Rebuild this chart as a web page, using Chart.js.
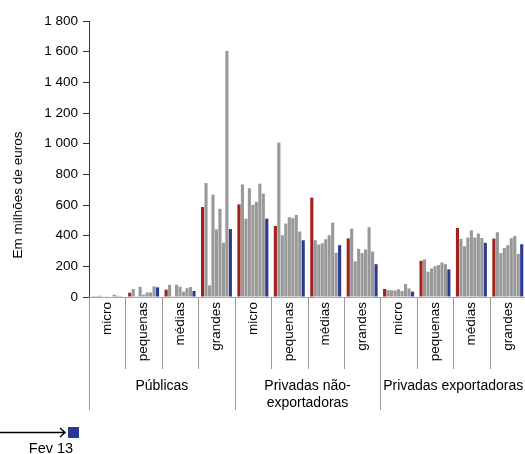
<!DOCTYPE html>
<html>
<head>
<meta charset="utf-8">
<script src="https://cdn.jsdelivr.net/npm/chart.js@4/dist/chart.umd.min.js"></script>
<style>
  html, body { margin: 0; padding: 0; background: #fff; overflow: hidden; }
  #wrap { position: relative; width: 529px; height: 454px; }
</style>
</head>
<body>
<div id="wrap"><canvas id="chart"></canvas></div>
<script>
  // categories
  var sectors = ['Públicas', ['Privadas não-', 'exportadoras'], 'Privadas exportadoras'];
  var sizes = ['micro', 'pequenas', 'médias', 'grandes'];
  var yTicks = [0, 200, 400, 600, 800, 1000, 1200, 1400, 1600, 1800];

  // series (first month in red, last month Fev 13 in blue, the rest grey)
  var serieInicio = [5, 28, 48, 587, 604, 463, 648, 382, 52, 236, 450, 381];
  var serie2 = [6, 52, 80, 743, 734, 1007, 370, 446, 45, 245, 379, 422];
  var serie3 = [8, 2, 5, 76, 511, 403, 342, 233, 43, 165, 331, 286];
  var serie4 = [4, 67, 80, 667, 709, 479, 351, 314, 43, 186, 388, 320];
  var serie5 = [2, 15, 67, 440, 601, 520, 377, 286, 50, 201, 435, 338];
  var serie6 = [3, 30, 35, 575, 620, 515, 403, 310, 39, 208, 388, 383];
  var serie7 = [15, 30, 58, 354, 739, 535, 485, 455, 84, 225, 414, 398];
  var serie8 = [8, 69, 65, 1605, 674, 427, 288, 297, 56, 214, 385, 281];
  var serieFev13 = [2, 63, 39, 443, 511, 370, 338, 214, 35, 180, 353, 344];

  var red = '#A0221F';
  var grey = '#999999';
  var blue = '#2B3990';
  var font = '"Liberation Sans", Arial, sans-serif';

  var labels = [];
  sectors.forEach(function () {
    sizes.forEach(function (s) { labels.push(s); });
  });

  var allSeries = [serieInicio, serie2, serie3, serie4, serie5, serie6, serie7, serie8, serieFev13];
  var datasets = allSeries.map(function (d, i) {
    var c = i === 0 ? red : (i === allSeries.length - 1 ? blue : grey);
    return {
      label: i === allSeries.length - 1 ? 'Fev 13' : 's' + i,
      data: d,
      backgroundColor: c,
      borderWidth: 0,
      barPercentage: 0.9,
      categoryPercentage: 0.86
    };
  });

  function fmt(v) {
    return String(v).replace(/\B(?=(\d{3})+(?!\d))/g, ' ');
  }

  var extras = {
    id: 'extras',
    afterDraw: function (chart) {
      var ctx = chart.ctx;
      var x = chart.scales.x;
      var n = labels.length;
      var step = x.width / n;
      var base = chart.chartArea.bottom;
      ctx.save();
      // separators under the axis
      ctx.strokeStyle = '#9a9a9a';
      ctx.lineWidth = 1;
      for (var i = 0; i <= n; i++) {
        var px = Math.round(x.getPixelForValue(0) - step / 2 + i * step) + 0.5;
        var bottom = (i % sizes.length === 0) ? 410 : 369;
        ctx.beginPath();
        ctx.moveTo(px, base);
        ctx.lineTo(px, bottom);
        ctx.stroke();
      }
      // sector labels
      ctx.fillStyle = '#000';
      ctx.font = '14px ' + font;
      ctx.textAlign = 'center';
      ctx.textBaseline = 'middle';
      sectors.forEach(function (s, k) {
        var cx = (x.getPixelForValue(k * 4) + x.getPixelForValue(k * 4 + 3)) / 2;
        var lines = Array.isArray(s) ? s : [s];
        lines.forEach(function (t, j) {
          ctx.fillText(t, cx, 386 + j * 17);
        });
      });
      // y title
      ctx.save();
      ctx.font = '13.5px ' + font;
      ctx.translate(18, 195);
      ctx.rotate(-Math.PI / 2);
      ctx.fillText('Em milhões de euros', 0, 0);
      ctx.restore();
      // legend fragment
      ctx.strokeStyle = '#000';
      ctx.lineWidth = 1.5;
      ctx.beginPath();
      ctx.moveTo(0, 432.5);
      ctx.lineTo(65, 432.5);
      ctx.moveTo(60, 428);
      ctx.lineTo(65, 432.5);
      ctx.lineTo(60, 437);
      ctx.stroke();
      ctx.fillStyle = blue;
      ctx.fillRect(68, 427, 11, 11);
      ctx.fillStyle = '#000';
      ctx.font = '14.5px ' + font;
      ctx.textBaseline = 'alphabetic';
      ctx.fillText('Fev 13', 51, 453);
      ctx.restore();
    }
  };

  new Chart(document.getElementById('chart'), {
    type: 'bar',
    data: { labels: labels, datasets: datasets },
    options: {
      responsive: true,
      maintainAspectRatio: false,
      animation: false,
      layout: { padding: { top: 21, right: 0, left: 0, bottom: 0 } },
      plugins: {
        legend: { display: false },
        tooltip: { enabled: false }
      },
      scales: {
        x: {
          grid: { display: false, drawTicks: false },
          border: { display: true, color: '#aaaaaa' },
          ticks: {
            color: '#000',
            font: { family: font, size: 13.5 },
            maxRotation: 90,
            minRotation: 90,
            autoSkip: false,
            padding: 5
          },
          afterFit: function (s) { s.height = 157; }
        },
        y: {
          min: 0,
          max: 1800,
          afterBuildTicks: function (s) {
            s.ticks = yTicks.map(function (v) { return { value: v }; });
          },
          grid: { drawOnChartArea: false, drawTicks: true, tickLength: 6, color: '#333' },
          border: { display: true, color: '#333' },
          ticks: {
            color: '#000',
            font: { family: font, size: 13.5 },
            padding: 5,
            callback: function (v) { return fmt(v); }
          },
          afterFit: function (s) { s.width = 89; }
        }
      }
    },
    plugins: [extras]
  });
</script>
</body>
</html>
